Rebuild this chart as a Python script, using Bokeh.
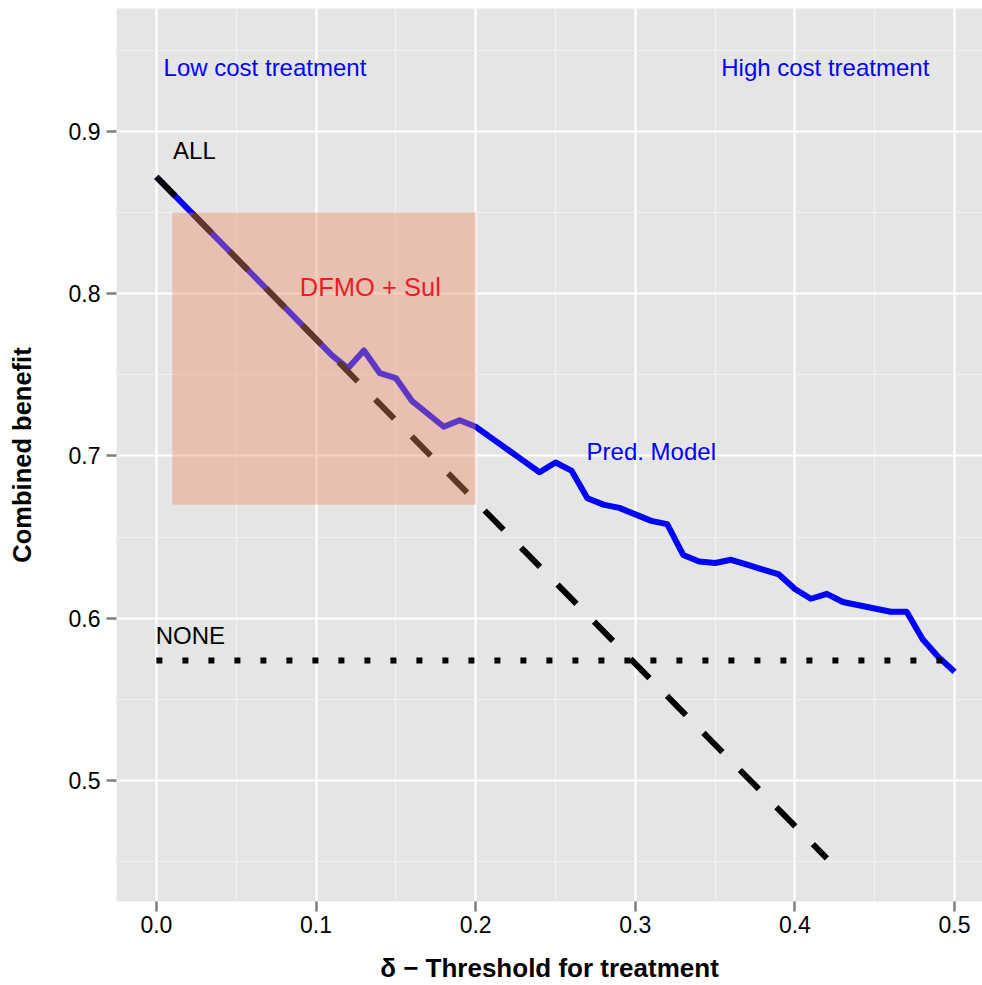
from bokeh.plotting import figure
from bokeh.models import Range1d, FixedTicker, ColumnDataSource
from bokeh.core.properties import value
from bokeh.embed import file_html
from bokeh.resources import INLINE

# ---- data ----
threshold = [0.00, 0.01, 0.02, 0.03, 0.04, 0.05, 0.06, 0.07, 0.08, 0.09,
             0.10, 0.11, 0.12, 0.13, 0.14, 0.15, 0.16, 0.17, 0.18, 0.19,
             0.20, 0.21, 0.22, 0.23, 0.24, 0.25, 0.26, 0.27, 0.28, 0.29,
             0.30, 0.31, 0.32, 0.33, 0.34, 0.35, 0.36, 0.37, 0.38, 0.39,
             0.40, 0.41, 0.42, 0.43, 0.44, 0.45, 0.46, 0.47, 0.48, 0.49,
             0.50]
pred_model = [0.872, 0.862, 0.852, 0.842, 0.832, 0.822, 0.812, 0.802, 0.792, 0.782,
              0.772, 0.762, 0.754, 0.765, 0.751, 0.748, 0.734, 0.726, 0.718, 0.722,
              0.718, 0.711, 0.704, 0.697, 0.690, 0.696, 0.691, 0.674, 0.670, 0.668,
              0.664, 0.660, 0.658, 0.639, 0.635, 0.634, 0.636, 0.633, 0.630, 0.627,
              0.618, 0.612, 0.615, 0.610, 0.608, 0.606, 0.604, 0.604, 0.587, 0.576,
              0.567]
all_x = [0.0, 0.42]
all_y = [0.872, 0.452]
none_x = [0.0, 0.5]
none_y = [0.574, 0.574]
box_left, box_right, box_bottom, box_top = [0.01], [0.20], [0.67], [0.85]

x_ticks = [0.0, 0.1, 0.2, 0.3, 0.4, 0.5]
x_tick_labels = ["0.0", "0.1", "0.2", "0.3", "0.4", "0.5"]
y_ticks = [0.5, 0.6, 0.7, 0.8, 0.9]
y_tick_labels = ["0.5", "0.6", "0.7", "0.8", "0.9"]
x_minor = [-0.05, 0.05, 0.15, 0.25, 0.35, 0.45, 0.55]
y_minor = [0.45, 0.55, 0.65, 0.75, 0.85, 0.95]

labels = ["Low cost treatment", "High cost treatment", "ALL", "DFMO + Sul", "Pred. Model", "NONE"]
label_x = [0.068, 0.419, 0.0238, 0.134, 0.310, 0.0213]
label_y = [0.9394, 0.9394, 0.8883, 0.8039, 0.7028, 0.5894]
label_color = ["#0000FF", "#0000FF", "#000000", "#EE1C25", "#0000FF", "#000000"]
label_size = ["24px", "24px", "24px", "25.5px", "24px", "24px"]

FONT = "Liberation Sans"

p = figure(width=982, height=985, output_backend="svg", toolbar_location=None,
           x_range=Range1d(-0.025, 0.5175), y_range=Range1d(0.4254, 0.9758),
           min_border_left=116, min_border_right=0, min_border_top=8, min_border_bottom=84)
p.background_fill_color = "#E5E5E5"
p.border_fill_color = "white"
p.outline_line_color = None

# grids
p.xgrid.ticker = FixedTicker(ticks=x_ticks, minor_ticks=x_minor)
p.ygrid.ticker = FixedTicker(ticks=y_ticks, minor_ticks=y_minor)
for g in (p.xgrid[0], p.ygrid[0]):
    g.grid_line_color = "white"
    g.grid_line_width = 2.2
    g.minor_grid_line_color = "#F2F2F2"
    g.minor_grid_line_width = 1.2

# axes
p.xaxis.ticker = FixedTicker(ticks=x_ticks)
p.yaxis.ticker = FixedTicker(ticks=y_ticks)
p.xaxis.major_label_overrides = dict(zip(x_ticks, x_tick_labels))
p.yaxis.major_label_overrides = dict(zip(y_ticks, y_tick_labels))
for ax in (p.xaxis[0], p.yaxis[0]):
    ax.axis_line_color = None
    ax.major_tick_line_color = "#7F7F7F"
    ax.major_tick_line_width = 2.5
    ax.major_tick_out = 10
    ax.major_tick_in = 0
    ax.minor_tick_out = 0
    ax.minor_tick_in = 0
    ax.major_label_text_font = FONT
    ax.major_label_text_font_size = "23px"
    ax.major_label_text_color = "black"
    ax.axis_label_text_font = FONT
    ax.axis_label_text_font_style = "bold"
    ax.axis_label_text_color = "black"
p.xaxis.axis_label = "δ − Threshold for treatment"
p.yaxis.axis_label = "Combined benefit"
p.xaxis.axis_label_text_font_size = "26px"
p.yaxis.axis_label_text_font_size = "25.5px"
p.xaxis.major_label_standoff = 4
p.yaxis.major_label_standoff = 6
p.xaxis.axis_label_standoff = 17
p.yaxis.axis_label_standoff = 30

# lines
p.line(threshold, pred_model, line_color="#0000FF", line_width=6, line_join="round")
p.line(all_x, all_y, line_color="black", line_width=6, line_dash="27 25")
p.line(none_x, none_y, line_color="black", line_width=6, line_dash="6 20")

# shaded box
p.quad(left=box_left, right=box_right, bottom=box_bottom, top=box_top,
       fill_color="#ED8966", fill_alpha=0.4, line_color=None)

# annotations
src = ColumnDataSource(dict(x=label_x, y=label_y, t=labels, c=label_color, s=label_size))
p.text(x="x", y="y", text="t", text_color="c", text_font_size="s", source=src,
       text_font=value(FONT), text_align="center", text_baseline="middle")

open("out.html", "w").write(file_html(p, INLINE))
